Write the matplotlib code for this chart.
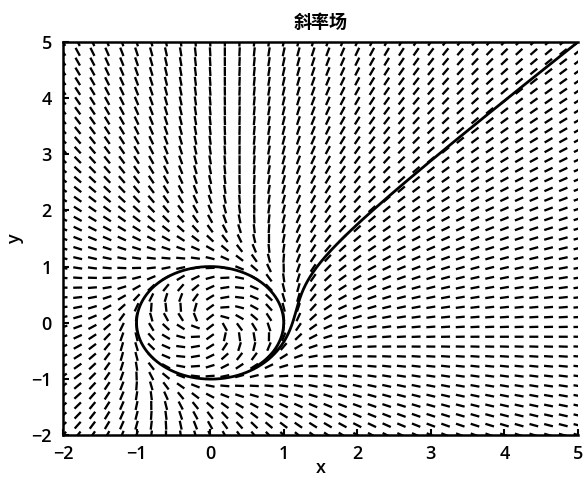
import numpy as np
import matplotlib.pyplot as plt

plt.rcParams['font.family'] = ['Open Sans', 'Noto Sans CJK SC', 'DejaVu Sans']

# 系统: x' = y + x(1-x^2-y^2), y' = -x + y(1-x^2-y^2), 单位圆为极限环
x_range = [-2, 5]
y_range = [-2, 5]
x_step = 0.2
y_step = 0.175
x0 = [5.0, 5.0]        # 轨线起点
t_end = 8.0
n_steps = 4000
x_ticks = [-2, -1, 0, 1, 2, 3, 4, 5]
y_ticks = [-2, -1, 0, 1, 2, 3, 4, 5]


def rhs(p):
    x, y = p
    s = 1 - x**2 - y**2
    return np.array([y + x * s, -x + y * s])


# 斜率场网格
gx = np.arange(x_range[0], x_range[1] + 1e-9, x_step)
gy = np.arange(y_range[0], y_range[1] + 1e-9, y_step)
xx, yy = np.meshgrid(gx, gy)
u, v = rhs((xx, yy))
n = np.hypot(u, v)
n[n == 0] = 1
u, v = u / n, v / n

# RK4 求轨线
h = t_end / n_steps
traj = np.zeros((n_steps + 1, 2))
traj[0] = x0
for i in range(n_steps):
    p = traj[i]
    k1 = rhs(p)
    k2 = rhs(p + h / 2 * k1)
    k3 = rhs(p + h / 2 * k2)
    k4 = rhs(p + h * k3)
    traj[i + 1] = p + h / 6 * (k1 + 2 * k2 + 2 * k3 + k4)

fig = plt.figure(figsize=(5.86, 4.8), dpi=100)
ax = fig.add_axes([0.1075, 0.09375, 0.8788, 0.81875])

ax.quiver(xx, yy, u, v, angles='xy', scale_units='inches', scale=11.1,
          pivot='mid', headwidth=0, headlength=0, headaxislength=0,
          units='dots', width=2.3, color='black')
ax.plot(traj[:, 0], traj[:, 1], color='black', lw=2.0)

ax.set_xlim(x_range)
ax.set_ylim(y_range)
ax.set_xticks(x_ticks)
ax.set_yticks(y_ticks)
ax.set_xticklabels([str(t).replace('-', '\u2212') for t in x_ticks])
ax.set_yticklabels([str(t).replace('-', '\u2212') for t in y_ticks])
ax.tick_params(direction='in', length=4, width=1.5, labelsize=13)
ax.tick_params(axis='x', pad=7)
ax.tick_params(axis='y', pad=8)
for lbl in ax.get_xticklabels() + ax.get_yticklabels():
    lbl.set_fontweight('semibold')
for side in ['left', 'bottom', 'top']:
    ax.spines[side].set_linewidth(1.8)
ax.spines['right'].set_visible(False)

ax.set_xlabel('x', fontsize=13, fontweight='semibold', labelpad=-3)
ax.set_ylabel('y', fontsize=13, fontweight='semibold', labelpad=5)
ax.set_title('斜率场', fontsize=13, fontweight='bold', pad=10,
             family=['Noto Sans CJK SC', 'DejaVu Sans'])

fig.savefig('out.png', dpi=100)
